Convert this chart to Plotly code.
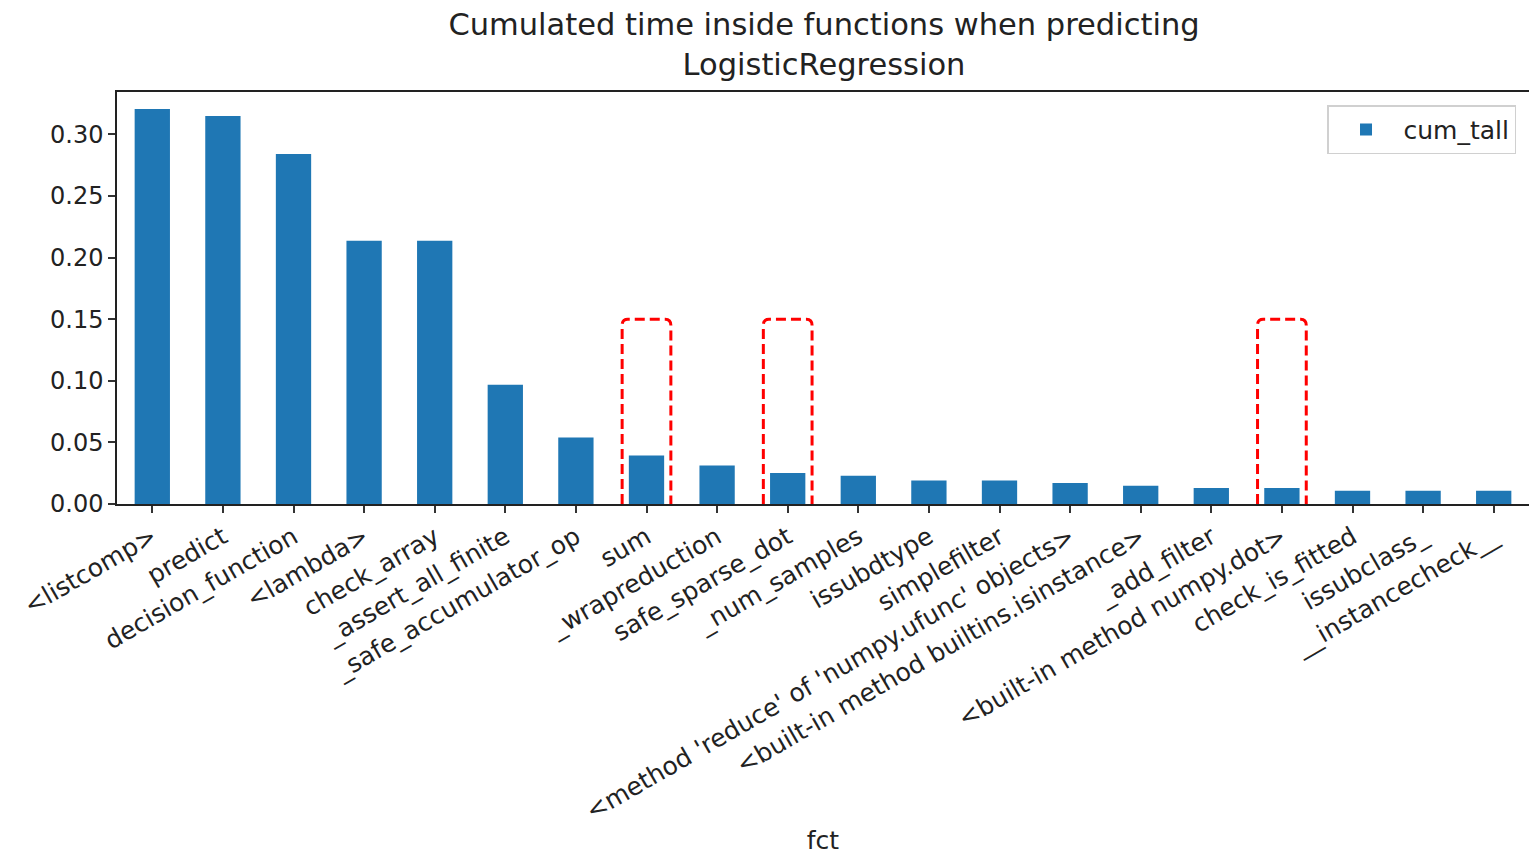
import plotly.graph_objects as go

categories = [
    "<listcomp>", "predict", "decision_function", "<lambda>", "check_array",
    "_assert_all_finite", "_safe_accumulator_op", "sum", "_wrapreduction",
    "safe_sparse_dot", "_num_samples", "issubdtype", "simplefilter",
    "<method 'reduce' of 'numpy.ufunc' objects>",
    "<built-in method builtins.isinstance>", "_add_filter",
    "<built-in method numpy.dot>", "check_is_fitted", "issubclass_",
    "__instancecheck__",
]
cum_tall = [
    0.3205, 0.3148, 0.284, 0.2137, 0.2137,
    0.0967, 0.054, 0.0394, 0.0313,
    0.0251, 0.023, 0.0191, 0.0191,
    0.017, 0.0148, 0.013,
    0.013, 0.0108, 0.0108, 0.0108,
]
highlighted = ["sum", "safe_sparse_dot", "<built-in method numpy.dot>"]
highlight_top = 0.15

idx = list(range(len(categories)))
FONT = "DejaVu Sans"

W, H = 1521, 847

fig = go.Figure()
fig.add_trace(go.Bar(
    x=idx, y=cum_tall, name="cum_tall", width=0.5,
    marker=dict(color="#1f77b4", line=dict(width=0)),
))

half = 0.345
r = 0.08
ry = 0.005
for name in highlighted:
    i = categories.index(name)
    x0, x1 = i - half, i + half
    path = (f"M {x0},0 L {x0},{highlight_top - ry} "
            f"Q {x0},{highlight_top} {x0 + r},{highlight_top} "
            f"L {x1 - r},{highlight_top} "
            f"Q {x1},{highlight_top} {x1},{highlight_top - ry} "
            f"L {x1},0")
    fig.add_shape(type="path", path=path, xref="x", yref="y",
                  line=dict(color="#ff0000", width=3, dash="10px,5px"))

fig.update_layout(
    width=W, height=H,
    margin=dict(l=109, r=0, t=84, b=H - 496, autoexpand=False),
    paper_bgcolor="white", plot_bgcolor="white",
    font=dict(family=FONT, size=24, color="#222222"),
    title=dict(text="Cumulated time inside functions when predicting<br>LogisticRegression",
               x=816 / W, xanchor="center", xref="container",
               y=1 - 27 / H, yanchor="top", yref="container",
               font=dict(family=FONT, size=30.5, color="#222222")),
    showlegend=True,
    legend=dict(x=0.9908, xanchor="right", y=0.968, yanchor="top",
                bgcolor="white", bordercolor="#d0d0d0", borderwidth=1.5,
                itemwidth=65,
                font=dict(family=FONT, size=25, color="#222222")),
    bargap=0.5,
)
fig.update_xaxes(
    tickmode="array", tickvals=idx, ticktext=categories, tickangle=-30,
    range=[-0.5, len(categories) - 0.5], automargin=False,
    showline=True, linecolor="#222222", linewidth=1.5, mirror=True,
    ticks="outside", ticklen=7, tickwidth=1.5, tickcolor="#333333",
    showgrid=False, zeroline=False,
    title=dict(text="fct", standoff=20, font=dict(family=FONT, size=25)),
    tickfont=dict(family=FONT, size=25),
)
fig.update_yaxes(
    range=[0, 0.3343], dtick=0.05, tickformat=".2f", automargin=False,
    showline=True, linecolor="#222222", linewidth=1.5, mirror=True,
    ticks="outside", ticklen=7, tickwidth=1.5, tickcolor="#333333",
    showgrid=False, zeroline=False,
    tickfont=dict(family=FONT, size=24),
)

fig.write_html("out.html")
